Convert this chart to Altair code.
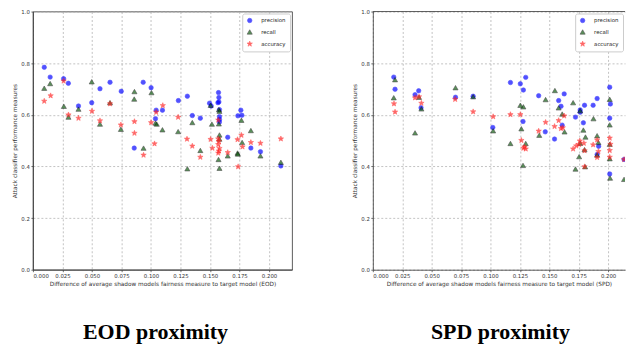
import math
import altair as alt
import pandas as pd

measures = ["precision", "recall", "accuracy"]

# EOD panel
eod_precision_x = [0.0096, 0.0146, 0.026, 0.030, 0.0386, 0.0498, 0.0568, 0.0653, 0.0748, 0.0858, 0.0934, 0.1001, 0.1038, 0.1044, 0.1097, 0.1232, 0.1308, 0.135, 0.1418, 0.1496, 0.151, 0.1567, 0.1572, 0.1575, 0.1575, 0.158, 0.158, 0.158, 0.158, 0.165, 0.1736, 0.1761, 0.177, 0.1846, 0.1927, 0.21]
eod_precision_y = [0.784, 0.746, 0.740, 0.722, 0.634, 0.647, 0.701, 0.726, 0.691, 0.471, 0.726, 0.705, 0.585, 0.618, 0.618, 0.655, 0.672, 0.597, 0.587, 0.645, 0.634, 0.647, 0.686, 0.667, 0.650, 0.620, 0.593, 0.582, 0.572, 0.513, 0.596, 0.618, 0.598, 0.471, 0.457, 0.402]
eod_recall_x = [0.0096, 0.0146, 0.0262, 0.0301, 0.0386, 0.0498, 0.0568, 0.0653, 0.0745, 0.086, 0.0858, 0.0937, 0.1004, 0.1038, 0.1049, 0.1097, 0.123, 0.1308, 0.135, 0.1418, 0.1505, 0.1516, 0.1575, 0.158, 0.1575, 0.158, 0.158, 0.1572, 0.158, 0.165, 0.1733, 0.1736, 0.1766, 0.1772, 0.1846, 0.1927, 0.21]
eod_recall_y = [0.703, 0.721, 0.633, 0.591, 0.622, 0.728, 0.564, 0.647, 0.544, 0.690, 0.661, 0.471, 0.686, 0.568, 0.564, 0.542, 0.535, 0.391, 0.570, 0.462, 0.637, 0.564, 0.620, 0.614, 0.565, 0.522, 0.506, 0.427, 0.393, 0.441, 0.452, 0.448, 0.579, 0.493, 0.539, 0.441, 0.416]
eod_accuracy_x = [0.0096, 0.015, 0.026, 0.0301, 0.0386, 0.05, 0.0568, 0.0653, 0.0745, 0.086, 0.086, 0.0937, 0.1001, 0.103, 0.1044, 0.11, 0.123, 0.1305, 0.135, 0.1418, 0.1505, 0.152, 0.157, 0.157, 0.1575, 0.157, 0.158, 0.1575, 0.157, 0.165, 0.1733, 0.1738, 0.1766, 0.1775, 0.1846, 0.1927, 0.21]
eod_accuracy_y = [0.653, 0.674, 0.731, 0.600, 0.587, 0.614, 0.577, 0.643, 0.561, 0.574, 0.529, 0.444, 0.570, 0.488, 0.610, 0.636, 0.591, 0.506, 0.479, 0.436, 0.505, 0.471, 0.580, 0.507, 0.497, 0.485, 0.470, 0.460, 0.452, 0.454, 0.504, 0.399, 0.521, 0.476, 0.493, 0.490, 0.507]

# SPD panel
spd_precision_x = [0.0178, 0.0189, 0.0359, 0.039, 0.041, 0.0703, 0.0853, 0.102, 0.117, 0.1254, 0.128, 0.130, 0.1277, 0.141, 0.1466, 0.1545, 0.158, 0.16, 0.161, 0.1627, 0.1723, 0.1763, 0.1763, 0.179, 0.18, 0.1873, 0.1907, 0.192, 0.1907, 0.2014, 0.202, 0.2014, 0.2014, 0.2136]
spd_precision_y = [0.746, 0.699, 0.678, 0.693, 0.627, 0.668, 0.672, 0.551, 0.725, 0.720, 0.696, 0.745, 0.574, 0.674, 0.534, 0.506, 0.655, 0.633, 0.560, 0.681, 0.591, 0.619, 0.610, 0.569, 0.637, 0.637, 0.663, 0.478, 0.446, 0.707, 0.642, 0.587, 0.371, 0.427]
spd_recall_x = [0.0189, 0.0178, 0.0393, 0.0413, 0.0359, 0.0703, 0.0853, 0.1023, 0.117, 0.1254, 0.128, 0.1263, 0.130, 0.1277, 0.1415, 0.1469, 0.1548, 0.158, 0.161, 0.163, 0.1703, 0.1763, 0.179, 0.1808, 0.1754, 0.1723, 0.18, 0.1805, 0.1763, 0.1876, 0.1907, 0.1918, 0.1907, 0.2014, 0.2014, 0.2014, 0.2014, 0.2017, 0.2136]
spd_recall_y = [0.736, 0.666, 0.668, 0.623, 0.530, 0.705, 0.670, 0.538, 0.489, 0.637, 0.631, 0.546, 0.489, 0.404, 0.521, 0.659, 0.694, 0.627, 0.603, 0.534, 0.647, 0.616, 0.541, 0.514, 0.438, 0.390, 0.465, 0.399, 0.490, 0.585, 0.519, 0.493, 0.444, 0.660, 0.561, 0.486, 0.430, 0.355, 0.350]
spd_accuracy_x = [0.018, 0.0189, 0.0359, 0.0393, 0.0413, 0.070, 0.0853, 0.1023, 0.117, 0.1254, 0.1263, 0.128, 0.130, 0.129, 0.141, 0.1469, 0.1545, 0.158, 0.1627, 0.16, 0.1615, 0.1703, 0.1729, 0.176, 0.1754, 0.1794, 0.18, 0.18, 0.1873, 0.1907, 0.1918, 0.1907, 0.2014, 0.202, 0.2014, 0.2014, 0.2136]
spd_accuracy_y = [0.643, 0.611, 0.666, 0.670, 0.645, 0.660, 0.612, 0.593, 0.601, 0.601, 0.501, 0.471, 0.468, 0.476, 0.537, 0.571, 0.555, 0.578, 0.596, 0.547, 0.550, 0.468, 0.480, 0.499, 0.485, 0.490, 0.461, 0.399, 0.484, 0.503, 0.458, 0.435, 0.510, 0.486, 0.462, 0.436, 0.427]

x_ticks = [0.0, 0.025, 0.05, 0.075, 0.1, 0.125, 0.15, 0.175, 0.2]
y_ticks = [0.0, 0.2, 0.4, 0.6, 0.8, 1.0]


def frame(px, py, rx, ry, ax, ay):
    rows = []
    for m, xs, ys in (("precision", px, py), ("recall", rx, ry), ("accuracy", ax, ay)):
        for a, b in zip(xs, ys):
            rows.append({"x": a, "y": b, "measure": m, "order": measures.index(m)})
    return pd.DataFrame(rows)


# five-pointed star symbol path
pts = []
for k in range(10):
    r = 1.0 if k % 2 == 0 else 0.42
    ang = -math.pi / 2 + k * math.pi / 5
    pts.append(f"{r*math.cos(ang):.3f},{r*math.sin(ang):.3f}")
star = "M" + "L".join(pts) + "Z"

fill_scale = alt.Scale(domain=measures, range=["#0000ff", "#0b5e0b", "#ff2020"])
stroke_scale = alt.Scale(domain=measures, range=["#0000ff", "#000000", "#ff2020"])
shape_scale = alt.Scale(domain=measures, range=["circle", "triangle-up", star])
size_scale = alt.Scale(domain=measures, range=[20, 32, 42])

Y_TITLE = "Attack classifier performance measures"


def points(df, xtitle, xmax):
    return alt.Chart(df).mark_point(filled=True, opacity=0.68, strokeWidth=0.6, clip=True).encode(
        x=alt.X("x:Q", scale=alt.Scale(domain=[0, xmax], nice=False, zero=True),
                axis=alt.Axis(values=x_ticks, format=".3f", title=xtitle)),
        y=alt.Y("y:Q", scale=alt.Scale(domain=[0, 1], nice=False),
                axis=alt.Axis(values=y_ticks, format=".1f", title=Y_TITLE)),
        color=alt.Color("measure:N", scale=fill_scale, legend=alt.Legend(title=None)),
        stroke=alt.Stroke("measure:N", scale=stroke_scale, legend=alt.Legend(title=None)),
        shape=alt.Shape("measure:N", scale=shape_scale, legend=alt.Legend(title=None)),
        size=alt.Size("measure:N", scale=size_scale, legend=alt.Legend(title=None)),
        order=alt.Order("order:Q"),
    )


def title(text, dx):
    return alt.TitleParams(text, orient="bottom", font="Liberation Serif", fontSize=22,
                           fontWeight="bold", color="black", offset=36, anchor="middle", dx=dx)


left = points(frame(eod_precision_x, eod_precision_y, eod_recall_x, eod_recall_y,
                    eod_accuracy_x, eod_accuracy_y),
              "Difference of average shadow models fairness measure to target model (EOD)",
              0.2195).properties(width=260, height=259, title=title("EOD proximity", -7))

top_border = alt.Chart(pd.DataFrame({"y": [1.0]})).mark_rule(
    color="#333333", strokeWidth=0.8).encode(y=alt.Y("y:Q"))

right = alt.layer(
    points(frame(spd_precision_x, spd_precision_y, spd_recall_x, spd_recall_y,
                 spd_accuracy_x, spd_accuracy_y),
           "Difference of average shadow models fairness measure to target model (SPD)",
           0.2144),
    top_border,
).properties(width=253, height=259, title=title("SPD proximity", 1.5),
             view=alt.ViewBackground(stroke="transparent"))

chart = alt.hconcat(left, right, spacing=58).resolve_scale(
    color="independent", shape="independent", stroke="independent", size="independent"
).properties(
    padding={"left": 3, "top": 0, "right": 0, "bottom": 0}
).configure_view(
    stroke="#333333", strokeWidth=0.8
).configure_axis(
    labelFont="DejaVu Sans", titleFont="DejaVu Sans", labelFontSize=5.4, titleFontSize=5.8,
    titleFontWeight="normal", labelColor="#333333", titleColor="#333333",
    domainColor="#333333", domainWidth=0.8, tickColor="#333333", tickSize=2, tickWidth=0.7,
    labelPadding=1.5, titlePadding=2, labelOverlap=False, grid=True,
    gridColor="#a8a8a8", gridDash=[2, 2], gridWidth=0.7, gridOpacity=1,
).configure_axisY(titlePadding=3).configure_legend(
    orient="top-right", offset=2, labelFont="DejaVu Sans", labelFontSize=5.4,
    labelColor="#222222", strokeColor="#cccccc", fillColor="white", padding=4,
    cornerRadius=2, rowPadding=3.5, symbolSize=16, labelOffset=8, symbolStrokeWidth=0.6,
)

chart.save("out.html", embed_options={"renderer": "svg", "actions": False})
